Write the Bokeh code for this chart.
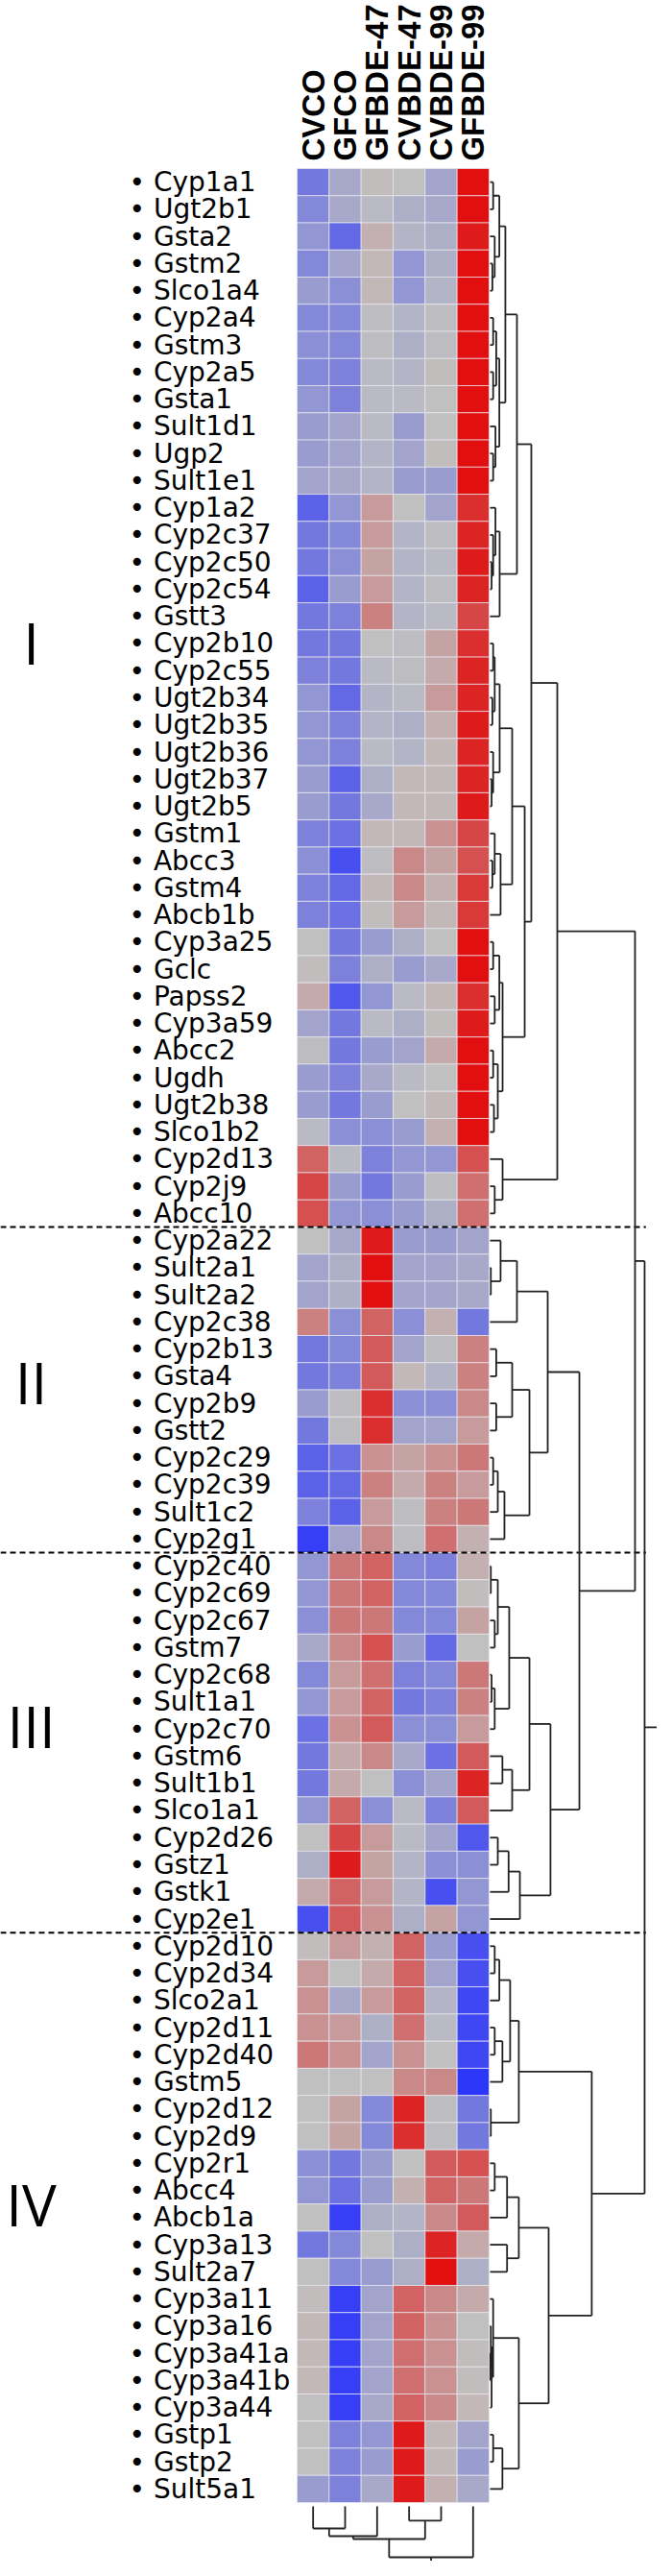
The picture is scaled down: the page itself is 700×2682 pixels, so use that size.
import numpy as np
from bokeh.plotting import figure
from bokeh.models import Range1d, LinearColorMapper, ColumnDataSource
from bokeh.core.properties import value
from bokeh.embed import file_html
from bokeh.resources import INLINE

# ---------------- data ----------------
samples = ["CVCO", "GFCO", "GFBDE-47", "CVBDE-47", "CVBDE-99", "GFBDE-99"]
group_names = ["I", "II", "III", "IV"]

genes_I = ["Cyp1a1", "Ugt2b1", "Gsta2", "Gstm2", "Slco1a4", "Cyp2a4", "Gstm3", "Cyp2a5",
           "Gsta1", "Sult1d1", "Ugp2", "Sult1e1", "Cyp1a2", "Cyp2c37", "Cyp2c50", "Cyp2c54",
           "Gstt3", "Cyp2b10", "Cyp2c55", "Ugt2b34", "Ugt2b35", "Ugt2b36", "Ugt2b37", "Ugt2b5",
           "Gstm1", "Abcc3", "Gstm4", "Abcb1b", "Cyp3a25", "Gclc", "Papss2", "Cyp3a59", "Abcc2",
           "Ugdh", "Ugt2b38", "Slco1b2", "Cyp2d13", "Cyp2j9", "Abcc10"]
genes_II = ["Cyp2a22", "Sult2a1", "Sult2a2", "Cyp2c38", "Cyp2b13", "Gsta4", "Cyp2b9", "Gstt2",
            "Cyp2c29", "Cyp2c39", "Sult1c2", "Cyp2g1"]
genes_III = ["Cyp2c40", "Cyp2c69", "Cyp2c67", "Gstm7", "Cyp2c68", "Sult1a1", "Cyp2c70", "Gstm6",
             "Sult1b1", "Slco1a1", "Cyp2d26", "Gstz1", "Gstk1", "Cyp2e1"]
genes_IV = ["Cyp2d10", "Cyp2d34", "Slco2a1", "Cyp2d11", "Cyp2d40", "Gstm5", "Cyp2d12", "Cyp2d9",
            "Cyp2r1", "Abcc4", "Abcb1a", "Cyp3a13", "Sult2a7", "Cyp3a11", "Cyp3a16", "Cyp3a41a",
            "Cyp3a41b", "Cyp3a44", "Gstp1", "Gstp2", "Sult5a1"]

expr_I = [
    [-0.60, -0.25, 0.05, 0.00, -0.30, 1.00],
    [-0.50, -0.25, -0.10, -0.20, -0.25, 1.00],
    [-0.40, -0.70, 0.15, -0.15, -0.20, 0.95],
    [-0.50, -0.30, 0.10, -0.40, -0.20, 1.00],
    [-0.35, -0.45, 0.10, -0.40, -0.15, 1.00],
    [-0.50, -0.50, -0.05, -0.15, -0.05, 1.00],
    [-0.45, -0.50, -0.05, -0.20, -0.05, 1.00],
    [-0.50, -0.55, -0.10, -0.15, 0.05, 1.00],
    [-0.40, -0.55, -0.10, -0.10, 0.00, 1.00],
    [-0.35, -0.30, -0.10, -0.35, 0.00, 1.00],
    [-0.35, -0.30, -0.15, -0.30, 0.05, 1.00],
    [-0.30, -0.25, -0.15, -0.35, -0.35, 1.00],
    [-0.75, -0.40, 0.30, 0.00, -0.30, 0.85],
    [-0.60, -0.50, 0.30, -0.15, -0.05, 0.90],
    [-0.60, -0.45, 0.25, -0.15, -0.10, 0.95],
    [-0.75, -0.35, 0.30, -0.15, -0.05, 0.90],
    [-0.60, -0.55, 0.45, -0.15, -0.10, 0.75],
    [-0.60, -0.60, 0.00, -0.05, 0.25, 0.85],
    [-0.55, -0.60, -0.10, -0.05, 0.20, 0.90],
    [-0.40, -0.70, -0.15, -0.10, 0.30, 0.90],
    [-0.40, -0.55, -0.15, -0.20, 0.15, 0.95],
    [-0.40, -0.55, -0.10, -0.15, 0.10, 0.90],
    [-0.35, -0.75, -0.20, 0.10, 0.10, 0.90],
    [-0.35, -0.60, -0.25, 0.10, 0.10, 0.95],
    [-0.55, -0.65, 0.10, 0.10, 0.35, 0.75],
    [-0.45, -0.85, -0.05, 0.40, 0.25, 0.70],
    [-0.55, -0.70, 0.10, 0.40, 0.15, 0.80],
    [-0.55, -0.65, 0.05, 0.30, 0.10, 0.80],
    [0.00, -0.60, -0.35, -0.20, 0.00, 1.00],
    [0.05, -0.55, -0.20, -0.35, -0.25, 1.00],
    [0.20, -0.80, -0.40, -0.10, 0.10, 0.85],
    [-0.30, -0.60, -0.10, -0.20, 0.05, 0.95],
    [-0.05, -0.60, -0.35, -0.30, 0.20, 1.00],
    [-0.35, -0.55, -0.25, -0.10, 0.00, 1.00],
    [-0.35, -0.60, -0.35, 0.00, 0.10, 1.00],
    [-0.10, -0.45, -0.45, -0.35, 0.15, 1.00],
    [0.60, -0.10, -0.55, -0.40, -0.40, 0.70],
    [0.75, -0.35, -0.60, -0.35, -0.05, 0.55],
    [0.70, -0.40, -0.45, -0.35, -0.20, 0.55],
]
expr_II = [
    [0.00, -0.25, 0.95, -0.35, -0.35, -0.30],
    [-0.30, -0.20, 1.00, -0.30, -0.30, -0.25],
    [-0.30, -0.20, 1.00, -0.30, -0.30, -0.25],
    [0.45, -0.45, 0.60, -0.45, 0.15, -0.60],
    [-0.60, -0.50, 0.65, -0.30, -0.05, 0.45],
    [-0.60, -0.55, 0.65, 0.10, -0.15, 0.45],
    [-0.35, -0.05, 0.85, -0.45, -0.45, 0.40],
    [-0.60, -0.05, 0.85, -0.30, -0.30, 0.30],
    [-0.75, -0.65, 0.35, 0.25, 0.35, 0.50],
    [-0.75, -0.70, 0.45, 0.20, 0.45, 0.30],
    [-0.55, -0.75, 0.30, -0.05, 0.45, 0.50],
    [-0.95, -0.30, 0.40, -0.05, 0.55, 0.15],
]
expr_III = [
    [-0.40, 0.50, 0.60, -0.50, -0.55, 0.15],
    [-0.40, 0.50, 0.60, -0.50, -0.50, 0.05],
    [-0.45, 0.50, 0.50, -0.50, -0.50, 0.25],
    [-0.25, 0.40, 0.70, -0.35, -0.70, 0.00],
    [-0.50, 0.30, 0.55, -0.55, -0.50, 0.50],
    [-0.40, 0.30, 0.60, -0.60, -0.55, 0.45],
    [-0.65, 0.35, 0.65, -0.45, -0.45, 0.30],
    [-0.60, 0.20, 0.40, -0.25, -0.65, 0.65],
    [-0.60, 0.20, 0.00, -0.45, -0.30, 0.90],
    [-0.40, 0.60, -0.45, -0.10, -0.55, 0.65],
    [0.00, 0.75, 0.30, -0.10, -0.30, -0.80],
    [-0.20, 0.95, 0.25, -0.15, -0.45, -0.45],
    [0.20, 0.60, 0.30, -0.15, -0.85, -0.40],
    [-0.85, 0.65, 0.35, -0.20, 0.25, -0.40],
]
expr_IV = [
    [0.05, 0.30, 0.15, 0.60, -0.35, -0.85],
    [0.30, 0.00, 0.20, 0.60, -0.30, -0.85],
    [0.35, -0.25, 0.30, 0.60, -0.15, -0.90],
    [0.35, 0.30, -0.20, 0.55, -0.10, -0.90],
    [0.50, 0.35, -0.30, 0.35, 0.00, -0.90],
    [0.00, 0.00, 0.00, 0.40, 0.40, -1.00],
    [0.00, 0.25, -0.50, 0.90, -0.05, -0.60],
    [0.00, 0.25, -0.50, 0.85, -0.05, -0.60],
    [-0.45, -0.60, -0.35, 0.00, 0.65, 0.70],
    [-0.40, -0.65, -0.35, 0.15, 0.60, 0.50],
    [0.00, -0.95, -0.20, -0.15, 0.40, 0.65],
    [-0.60, -0.50, 0.00, -0.20, 0.90, 0.20],
    [0.00, -0.50, -0.35, -0.20, 1.00, -0.20],
    [0.05, -0.95, -0.30, 0.60, 0.40, 0.20],
    [0.10, -0.95, -0.30, 0.60, 0.35, 0.00],
    [0.10, -0.95, -0.30, 0.55, 0.35, 0.05],
    [0.10, -0.95, -0.30, 0.55, 0.35, 0.05],
    [0.00, -0.95, -0.25, 0.60, 0.40, 0.10],
    [0.00, -0.55, -0.40, 0.95, 0.10, -0.30],
    [0.00, -0.55, -0.35, 0.95, 0.10, -0.35],
    [-0.35, -0.55, -0.25, 0.95, 0.15, -0.25],
]

# dendrograms: [left, right, merge height]; ints are leaf indices
col_dendrogram = [[[[0, 1, 4.34], 2, 5.85], [3, 4, 2.83], 6.42], 5, 10.0]

den_I = [
    [
        [[[[0, 1, 0.2], [2, [3, 4, 0.15], 0.3], 0.6],
          [[[5, 6, 0.2], [7, 8, 0.2], 0.4], [9, [10, 11, 0.2], 0.35], 0.6], 0.99],
         [[12, [13, [14, 15, 0.1], 0.2], 0.35], 16, 0.62], 1.74],
        [[[[[17, 18, 0.2], [19, 20, 0.15], 0.3], [21, [22, 23, 0.1], 0.2], 0.62],
          [[24, [25, 26, 0.15], 0.3], 27, 0.68], 1.43],
         [[[28, 29, 0.2], [30, 31, 0.3], 0.6], [[32, 33, 0.2], [34, 35, 0.25], 0.5], 0.81], 2.24],
        2.67],
    [36, [37, 38, 0.3], 0.81],
    4.35]
den_II = [[[39, [40, 41, 0.05], 0.68], 42, 1.74],
          [[[43, 44, 0.4], [45, 46, 0.4], 1.43], [[[47, 48, 0.2], 49, 0.5], 50, 0.93], 2.55],
          3.73]
den_III = [[[[[51, 52, 0.05], [53, 54, 0.3], 0.5], [[55, 56, 0.1], 57, 0.3], 1.24],
            [[58, 59, 0.8], 60, 1.43], 2.55],
           [[[61, 62, 0.5], 63, 1.2], 64, 1.93],
           3.91]
den_IV = [[[[[65, 66, 0.3], 67, 0.6], [[68, 69, 0.3], 70, 0.8], 1.3], [71, 72, 0.05], 1.86],
          [[[[73, 74, 0.3], 75, 1.1], [76, 77, 1.1], 1.86],
           [[78, [[79, [80, 81, 0.02], 0.05], 82, 0.1], 0.2], [[83, 84, 0.2], 85, 0.8], 1.86],
           3.79],
          6.58]
row_dendrogram = [[den_I, [den_II, den_III, 5.78], 9.38], den_IV, 10.0]

# ---------------- layout constants ----------------
W, H = 684, 2666
CELL_W, CELL_H = 33.33, 28.256
HEAT_LEFT, HEAT_TOP = 309.0, 175.0        # px inside the figure
ROW_DG_GAP, ROW_DG_SCALE = 0.03, 0.483     # column units
COL_DG_GAP, COL_DG_SCALE = 0.14, 0.1876    # row units

genes = genes_I + genes_II + genes_III + genes_IV
expr = expr_I + expr_II + expr_III + expr_IV
group_sizes = [len(genes_I), len(genes_II), len(genes_III), len(genes_IV)]
n_rows, n_cols = len(genes), len(samples)

x_lo = -HEAT_LEFT / CELL_W
x_hi = (W - HEAT_LEFT) / CELL_W
y_top = -HEAT_TOP / CELL_H
y_bot = (H - HEAT_TOP) / CELL_H

p = figure(width=W, height=H, x_range=Range1d(x_lo, x_hi), y_range=Range1d(y_bot, y_top),
           output_backend="svg", toolbar_location=None, x_axis_location=None,
           y_axis_location=None, min_border=0)
p.grid.visible = False
p.outline_line_color = None
p.background_fill_color = "white"
p.border_fill_color = "white"

# palette blue - gray - red (slightly muted mid-tones)
GAMMA = 1.3
def ramp(c0, c1, n):
    return [tuple(np.round(np.array(c0) + (np.array(c1) - np.array(c0)) * t).astype(int))
            for t in np.linspace(0, 1, n) ** GAMMA]
lowc, midc, highc = (45, 55, 250), (192, 192, 192), (225, 15, 15)
cols = ramp(midc, lowc, 65)[::-1][:-1] + ramp(midc, highc, 65)
palette = ["#%02x%02x%02x" % c for c in cols]
mapper = LinearColorMapper(palette=palette, low=-1.0, high=1.0)

xs, ys, vs = [], [], []
for i, row in enumerate(expr):
    for j, v in enumerate(row):
        xs.append(j + 0.5)
        ys.append(i + 0.5)
        vs.append(v)
src = ColumnDataSource(dict(x=xs, y=ys, v=vs))
p.rect(x="x", y="y", width=1, height=1, source=src,
       fill_color={"field": "v", "transform": mapper},
       line_color="#e8e8f0", line_width=1, line_alpha=0.7)

# gene labels
p.text(x=[-5.25] * n_rows, y=[i + 0.5 for i in range(n_rows)],
       text=["\u2022 " + g for g in genes],
       text_font=value("DejaVu Sans"), text_font_size="28px",
       text_align="left", text_baseline="middle", text_color="black")

# sample labels (vertical)
p.text(x=[j + 0.5 for j in range(n_cols)], y=[-0.28] * n_cols, text=samples,
       angle=np.pi / 2, text_font=value("Liberation Sans"), text_font_style="bold",
       text_font_size="33px", text_align="left", text_baseline="middle", text_color="black")

# group numerals
numeral_shift = [-2.05, -0.3, -0.6, -0.5]
bounds = np.cumsum([0] + group_sizes)
centers = [(bounds[k] + bounds[k + 1]) / 2 + numeral_shift[k] for k in range(4)]
p.text(x=[-8.31] * 4, y=centers, text=group_names, text_font=value("Open Sans"),
       text_font_size="60px", text_align="center", text_baseline="middle", text_color="black")

# dashed separators
sep = list(bounds[1:-1])
p.segment(x0=[x_lo] * len(sep), y0=sep, x1=[10.9] * len(sep), y1=sep,
          line_color="black", line_width=2, line_dash="6 4")

# dendrograms
def walk(node, segs):
    if isinstance(node, int):
        return node + 0.5, 0.0
    l, r, h = node
    pl, hl = walk(l, segs)
    pr, hr = walk(r, segs)
    segs.append((hl, pl, h, pl))
    segs.append((hr, pr, h, pr))
    segs.append((h, pl, h, pr))
    return (pl + pr) / 2, h

rsegs = []
rpos, rh = walk(row_dendrogram, rsegs)
rsegs.append((rh, rpos, rh + 1.1, rpos))
rx = lambda h: n_cols + ROW_DG_GAP + h * ROW_DG_SCALE
p.segment(x0=[rx(s[0]) for s in rsegs], y0=[s[1] for s in rsegs],
          x1=[rx(s[2]) for s in rsegs], y1=[s[3] for s in rsegs],
          line_color="#222222", line_width=1.8)

csegs = []
cpos, ch = walk(col_dendrogram, csegs)
csegs.append((ch, cpos, ch + 0.9, cpos))
cy = lambda h: n_rows + COL_DG_GAP + h * COL_DG_SCALE
p.segment(x0=[s[1] for s in csegs], y0=[cy(s[0]) for s in csegs],
          x1=[s[3] for s in csegs], y1=[cy(s[2]) for s in csegs],
          line_color="#222222", line_width=1.8)

open("out.html", "w").write(file_html(p, INLINE))
